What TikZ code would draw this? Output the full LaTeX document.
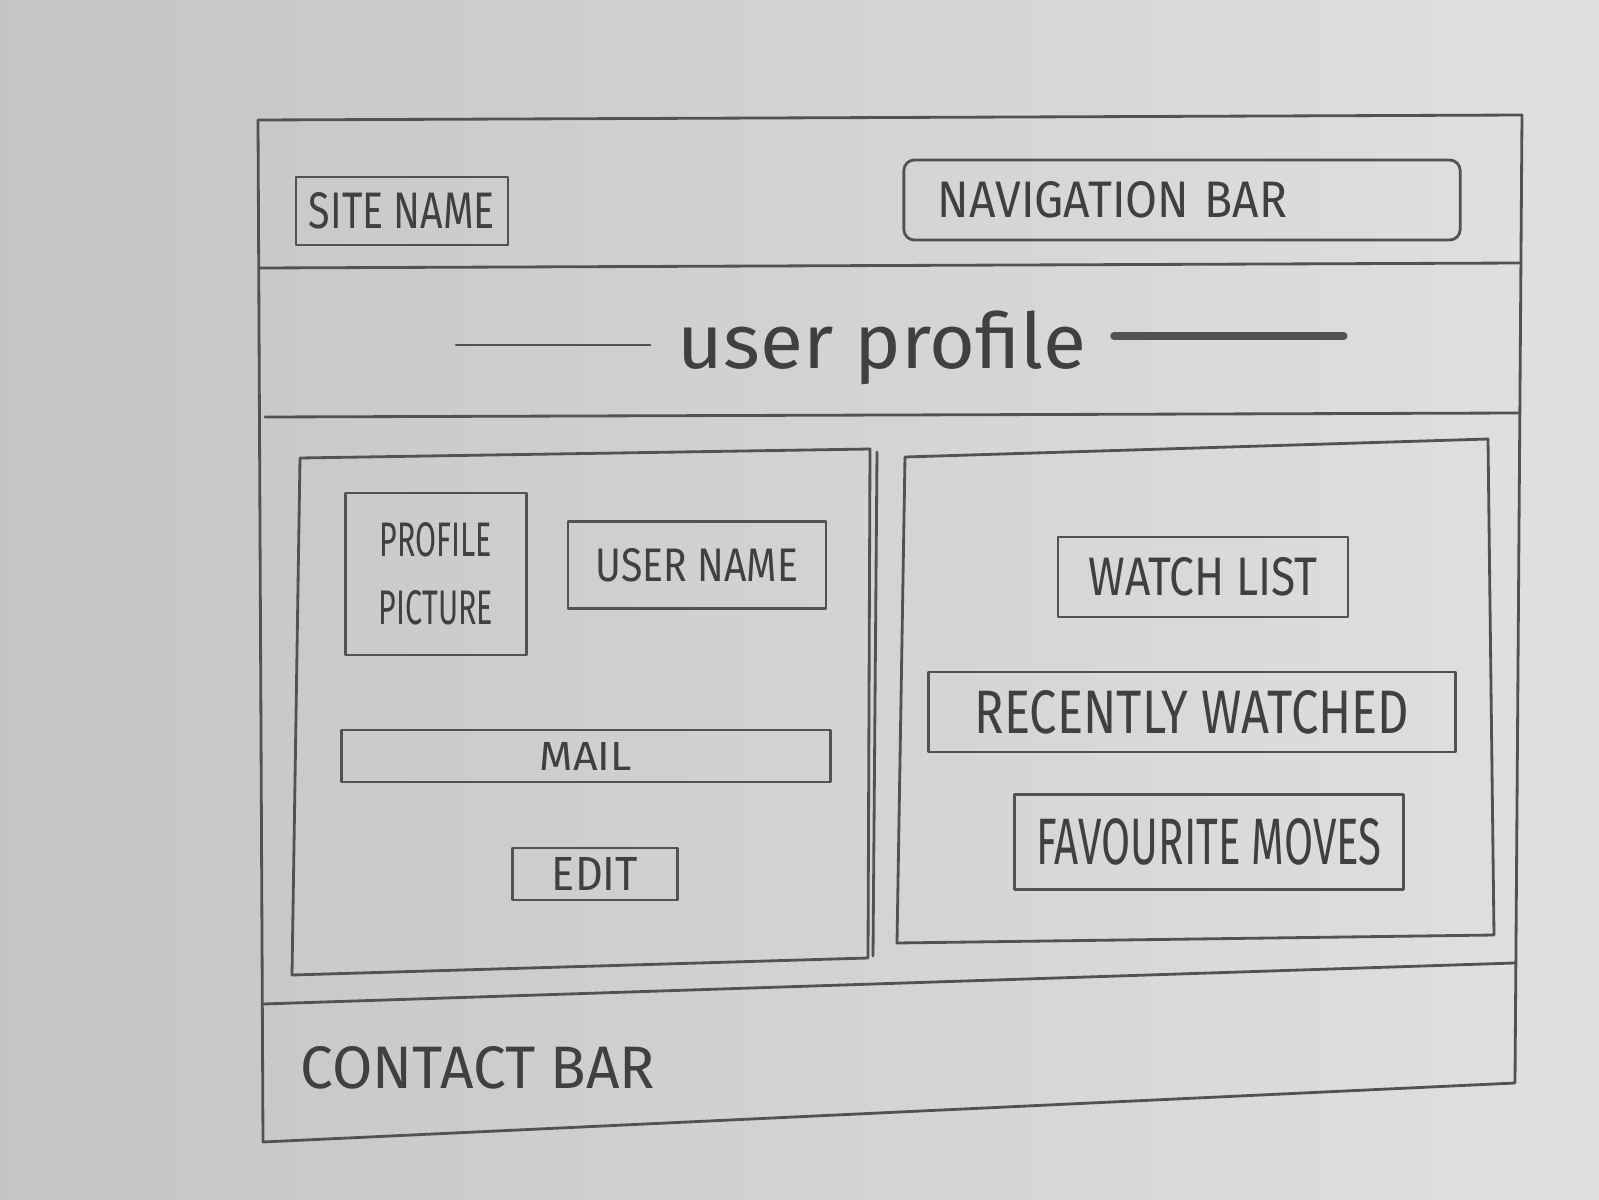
\documentclass[tikz,border=0pt]{standalone}
\usepackage{fontspec}
\setmainfont{Fira Sans}
\usepackage{graphicx}
\newcommand{\hand}[3]{\resizebox{#1}{#2}{#3}}

\begin{document}
\begin{tikzpicture}[x=0.01cm, y=-0.01cm,
    pencil/.style={draw=black!68, line width=0.8pt, line join=round, line cap=round},
    box/.style={pencil, rectangle, inner sep=0pt, text=black!75},
    word/.style={inner sep=0pt, text=black!75}]

  % paper
  \useasboundingbox (0,0) rectangle (1599,1200);
  \shade[left color=black!23, right color=black!12] (0,0) rectangle (1599,1200);

  % page frame and bands
  \draw[pencil] (258,120) -- (1522,115) -- (1515,1083) -- (263,1142) -- cycle;
  \draw[pencil] (259,268) -- (1521,263);
  \draw[pencil] (265,417) -- (1518,413);
  \draw[pencil] (263,1004) -- (1514,963);

  % header
  \node[box, minimum width=2.12cm, minimum height=0.68cm] (site) at (402,211)
    {\hand{1.86cm}{0.36cm}{SITE NAME}};
  \node[box, rounded corners=3pt, minimum width=5.56cm, minimum height=0.8cm,
        inner xsep=0.34cm, text width=4.88cm, align=left] (nav) at (1182,200)
    {\hand{3.49cm}{0.36cm}{NAVIGATION BAR}};

  % title
  \node[word, inner xsep=0.27cm] (title) at (882,348)
    {\resizebox*{4.08cm}{0.74cm}{user profile}};
  \coordinate (lineL) at (456,345);
  \coordinate (lineR) at (1344,336);
  \draw[pencil] (lineL) -- (title.west |- lineL);
  \draw[pencil, line width=2pt] (title.east |- lineR) -- (lineR);

  % left panel
  \draw[pencil] (300,458) -- (870,449) -- (868,958) -- (292,975) -- cycle;
  \draw[pencil] (877,452) -- (873,956);
  \node[box, minimum width=1.81cm, minimum height=1.62cm, align=center] (pic) at (436,574)
    {\hand{1.12cm}{0.34cm}{PROFILE}\\[0.26cm]\hand{1.14cm}{0.34cm}{PICTURE}};
  \node[box, minimum width=2.58cm, minimum height=0.87cm] (uname) at (697,565)
    {\hand{2.02cm}{0.33cm}{USER NAME}};
  \node[box, minimum width=4.88cm, minimum height=0.52cm] (mail) at (586,756)
    {\hand{0.92cm}{0.28cm}{MAIL}};
  \node[box, minimum width=1.65cm, minimum height=0.52cm] (edit) at (595,874)
    {\hand{0.86cm}{0.33cm}{EDIT}};

  % right panel
  \draw[pencil] (905,457) -- (1488,439) -- (1494,935) -- (897,943) -- cycle;
  \node[box, minimum width=2.9cm, minimum height=0.8cm] (watch) at (1203,577)
    {\hand{2.29cm}{0.38cm}{WATCH LIST}};
  \node[box, minimum width=5.26cm, minimum height=0.8cm] (recent) at (1192,712)
    {\hand{4.34cm}{0.43cm}{RECENTLY WATCHED}};
  \node[box, minimum width=3.88cm, minimum height=0.95cm] (fav) at (1209,842)
    {\hand{3.45cm}{0.46cm}{FAVOURITE MOVES}};

  % footer
  \node[word] (contact) at (478,1068) {\hand{3.54cm}{0.42cm}{CONTACT BAR}};
\end{tikzpicture}
\end{document}
